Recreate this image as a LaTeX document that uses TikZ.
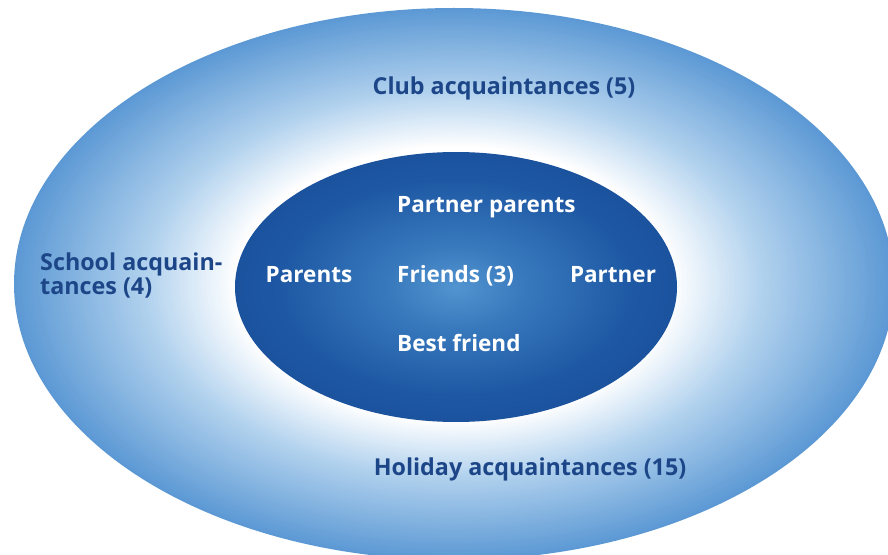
\documentclass[tikz,border=0pt]{standalone}
\usepackage{fontspec}
\setmainfont{Open Sans}

\definecolor{ringblue}{RGB}{92,153,212}
\definecolor{ringmid}{RGB}{178,210,238}
\definecolor{coredark}{RGB}{20,72,148}
\definecolor{coremid}{RGB}{30,88,164}
\definecolor{coresoft}{RGB}{55,120,188}
\definecolor{corelight}{RGB}{82,148,208}
\definecolor{labelblue}{RGB}{28,70,136}

% core: bright centre fading into deep blue
\pgfdeclareradialshading{coreshade}{\pgfpointorigin}{%
  color(0bp)=(corelight); color(8bp)=(coresoft); color(20bp)=(coremid); color(34bp)=(coredark); color(50bp)=(coredark)}

\tikzset{
  ringlabel/.style={inner sep=0pt, text=labelblue, font=\bfseries\fontsize{23.3bp}{28bp}\selectfont},
  corelabel/.style={inner sep=0pt, text=white, font=\bfseries\fontsize{22.5bp}{27bp}\selectfont},
}

\begin{document}
\begin{tikzpicture}[x=1bp, y=-1bp]
  \useasboundingbox (0,0) rectangle (888,555);
  \clip (0,0) rectangle (888,555);
  \fill[white] (0,0) rectangle (888,555);

  % outer ring, built from nested ellipses: blue rim -> pale blue
  \foreach \k in {0,...,48}{
    \pgfmathsetmacro\t{1-\k*0.6/48}
    \pgfmathsetmacro\r{0.5+0.5*\t}
    \pgfmathsetmacro\p{(\t-0.4)/0.6*100}
    \fill[ringblue!\p!ringmid] (454,284) ellipse [x radius=440*\r, y radius=276*\r];
  }
  % pale blue -> white next to the core
  \foreach \k in {1,...,32}{
    \pgfmathsetmacro\t{0.4-\k*0.4/32}
    \pgfmathsetmacro\r{0.5+0.5*\t}
    \pgfmathsetmacro\p{\t/0.4*100}
    \fill[ringmid!\p!white] (454,284) ellipse [x radius=440*\r, y radius=276*\r];
  }

  % core of close relations
  \shade[shading=coreshade] (456,287) ellipse [x radius=221, y radius=135];

  % outer ring labels
  \node[ringlabel, anchor=base] (club) at (504,95) {Club acquaintances (5)};
  \node[ringlabel, anchor=base west] (school1) at (40,271) {School acquain-};
  \node[ringlabel, anchor=base west] (school2) at (40,295) {tances (4)};
  \node[ringlabel, anchor=base] (holiday) at (530,475) {Holiday acquaintances (15)};

  % core labels
  \node[corelabel, anchor=base west] (pparents) at (397,213) {Partner parents};
  \node[corelabel, anchor=base] (parents) at (309,283) {Parents};
  \node[corelabel, anchor=base west] (friends) at (397,283) {Friends (3)};
  \node[corelabel, anchor=base] (partner) at (613,283) {Partner};
  \node[corelabel, anchor=base west] (best) at (397,352) {Best friend};
\end{tikzpicture}
\end{document}
